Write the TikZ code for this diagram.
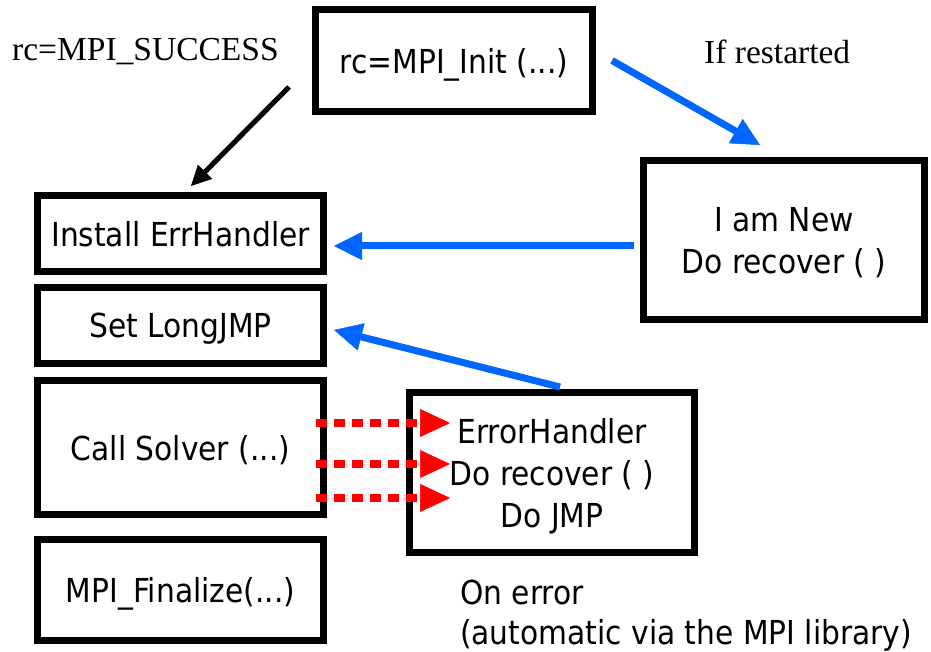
\documentclass[tikz,border=0pt]{standalone}
\usepackage{fontspec}
\setmainfont[FakeStretch=0.9]{DejaVu Sans}
\newfontfamily\timesfont{Liberation Serif}
\usetikzlibrary{arrows.meta}
\definecolor{flowblue}{RGB}{0,102,255}

\begin{document}
\begin{tikzpicture}[x=1pt, y=1pt,
  >={Triangle[length=28pt,width=28pt,line width=0.5pt]},
  box/.style={draw, line width=7pt, inner sep=0pt, align=center, text depth=0pt, font=\fontsize{33}{42}\selectfont},
  plain/.style={inner sep=0pt, anchor=west, font=\timesfont\fontsize{33.5}{40}\selectfont},
  blueflow/.style={->, line width=7pt, draw=flowblue, fill=flowblue},
  errflow/.style={-{Triangle[length=30pt,width=28pt,line width=0.5pt]}, line width=8pt, draw=red, fill=red, dash pattern=on 11pt off 7pt}]

\useasboundingbox (0,0) rectangle (931,651);

\node[box, minimum width=277pt, minimum height=102pt] (init) at (454,590.5) {rc=MPI\_Init (...)};
\node[box, minimum width=281pt, minimum height=159pt] (new) at (784,411) {I am New\\Do recover ( )};
\node[box, minimum width=286pt, minimum height=76pt] (install) at (180.5,417.5) {Install ErrHandler};
\node[box, minimum width=286pt, minimum height=76pt] (longjmp) at (180.5,325.5) {Set LongJMP};
\node[box, minimum width=286pt, minimum height=134pt] (solver) at (180.5,203.5) {Call Solver (...)};
\node[box, minimum width=286pt, minimum height=101pt] (finalize) at (180.5,61) {MPI\_Finalize(...)};
\node[box, minimum width=285pt, minimum height=160pt] (handler) at (552,178.5) {ErrorHandler\\Do recover ( )\\Do JMP};

\node[plain] (success) at (12,599) {rc=MPI\_SUCCESS};
\node[plain] (restart) at (704,599) {If restarted};
\node[inner sep=0pt, anchor=west, align=left, font=\fontsize{33}{40}\selectfont] (onerror) at (460,35)
  {On error\\(automatic via the MPI library)};

\coordinate (okstart) at ([shift={(-23pt,28pt)}]init.south west);
\draw[-{Triangle[length=20pt,width=20pt,line width=0.5pt]}, line width=5pt] (okstart) -- ([shift={(10.5pt,6pt)}]install.north);

\draw[blueflow] ([xshift=16pt]init.east) -- ([shift={(-24pt,12pt)}]new.north);
\draw[blueflow] ([shift={(-6pt,-6pt)}]new.west) -- ([shift={(7pt,-12.5pt)}]install.east);
\draw[blueflow] ([shift={(8pt,2pt)}]handler.north) -- ([shift={(7pt,-4.5pt)}]longjmp.east);

\foreach \dy in {24.5,-16.5,-50.5}
{
	\draw[errflow] ([shift={(-11pt,\dy pt)}]solver.east) -- ([shift={(44pt,\dy pt)}]solver.east -| handler.west);
}

\end{tikzpicture}
\end{document}
